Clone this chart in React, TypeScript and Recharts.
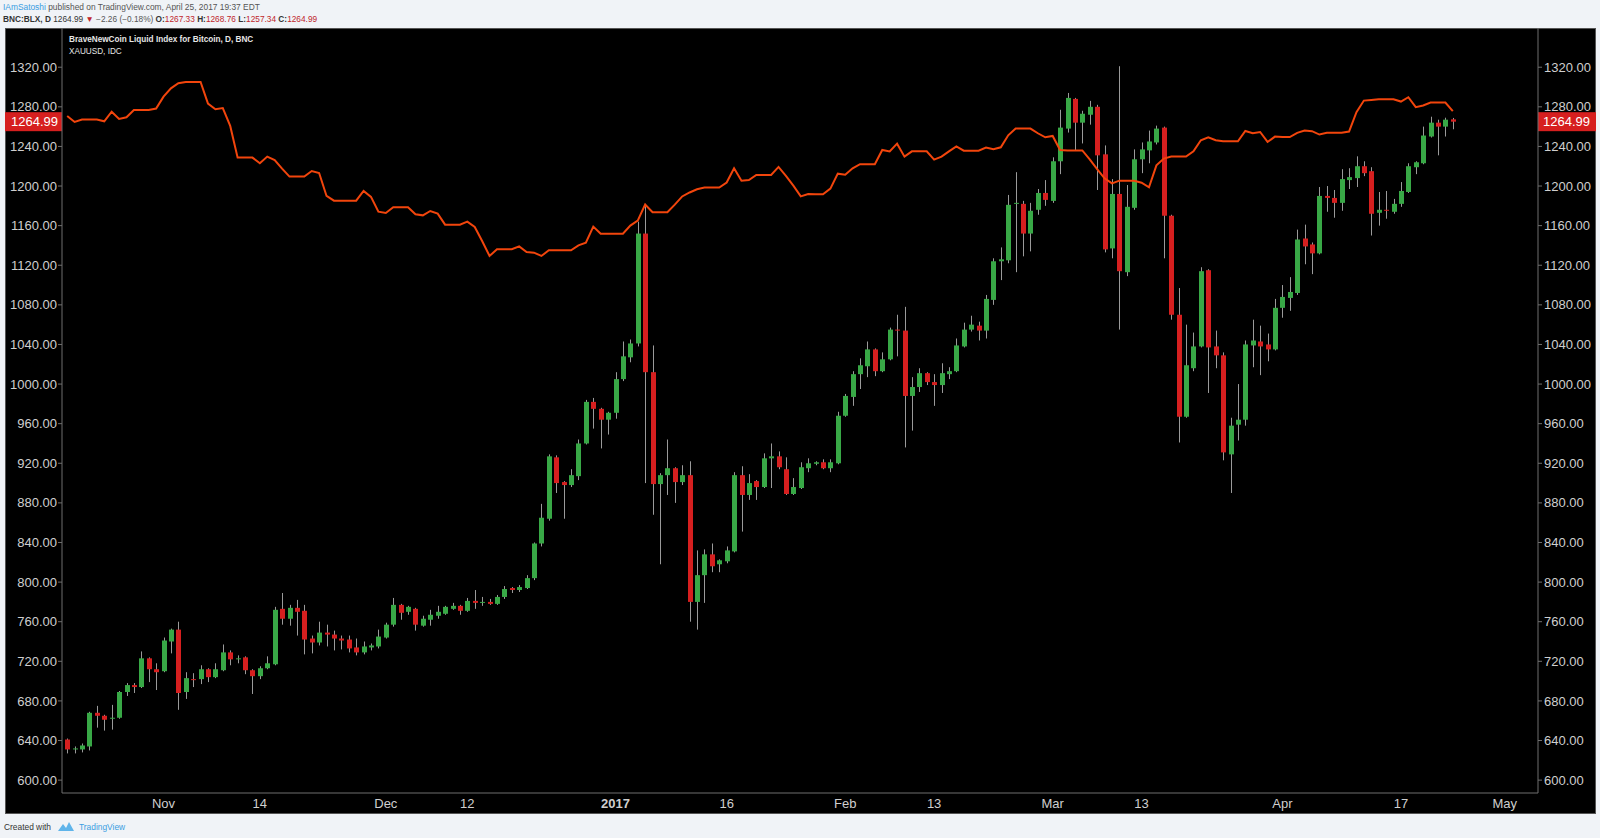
import React from 'react';
import { ComposedChart, Bar, Line, XAxis, YAxis, ReferenceLine } from 'recharts';

// BNC:BLX daily candles, 2016-10-19 .. 2017-04-24, plus XAUUSD close on the same days
const START_DATE = '2016-10-19';

const OPEN = [
  641, 631, 631, 634, 668, 665, 662, 663, 689, 696, 694, 723, 712, 710, 740, 752, 689, 702, 702, 712,
  704, 711, 729, 722, 724, 711, 705, 713, 717, 773, 763, 774, 771, 743, 739, 749, 747, 743, 742, 734,
  729, 734, 735, 744, 757, 777, 770, 773, 756, 762, 766, 768, 773, 776, 771, 781, 779, 780, 778, 785,
  794, 792, 794, 804, 839, 864, 926, 901, 898, 907, 940, 982, 975, 964, 971, 1005, 1027, 1041, 1152, 1012,
  899, 908, 915, 901, 908, 780, 807, 828, 818, 821, 831, 908, 888, 902, 896, 925, 927, 914, 889, 895,
  915, 919.5, 921, 915, 920, 968, 987, 1010, 1018, 1035, 1013, 1025, 1055, 1054, 988, 997, 1011, 1002, 999, 1010,
  1013, 1038, 1055, 1059, 1054, 1085, 1124, 1125, 1182, 1182, 1152, 1176, 1193, 1185, 1225, 1258, 1288, 1264, 1272, 1280,
  1232, 1137, 1192, 1113, 1178, 1227, 1236, 1244, 1259, 1170, 1070, 967, 1016, 1038, 1115, 1038, 1029, 929, 959, 964,
  1039, 1043, 1040, 1035, 1077, 1087, 1092, 1147, 1141, 1132, 1190, 1188, 1183, 1206, 1208, 1220, 1215, 1173, 1176, 1174,
  1182, 1194, 1219, 1223, 1250, 1264, 1260, 1267.33,
];
const HIGH = [
  642, 634, 637, 669, 675, 666, 676, 690, 698, 698, 730, 724, 718, 744, 753, 760, 709, 708, 716, 713,
  718, 737, 731, 726, 725, 712, 715, 725, 775, 789, 777, 782, 777, 746, 760, 757, 751, 746, 746, 743,
  740, 738, 752, 759, 784, 778, 776, 774, 766, 772, 776, 776, 779, 777, 784, 792, 785, 783, 787, 796,
  795, 797, 807, 840, 879, 929, 928, 902, 914, 944, 984, 986, 976, 972, 1012, 1043, 1045, 1164, 1182, 1039,
  910, 944, 916, 918, 922, 832, 833, 839, 823, 836, 911, 917, 909, 903, 930, 940, 932, 926, 905, 921,
  925, 922, 924, 924, 972, 990, 1013, 1026, 1043, 1036, 1032, 1057, 1070, 1078, 1007, 1016, 1012, 1010, 1021, 1017,
  1046, 1062, 1069, 1063, 1090, 1127, 1138, 1191, 1214, 1185, 1183, 1197, 1206, 1229, 1277, 1294, 1289, 1276, 1286, 1282,
  1241, 1207, 1321, 1201, 1237, 1244, 1256, 1261, 1260, 1171, 1097, 1060, 1052, 1118, 1116, 1054, 1032, 966, 1000, 1044,
  1065, 1059, 1051, 1086, 1100, 1108, 1156, 1161, 1143, 1199, 1200, 1196, 1217, 1218, 1230, 1225, 1219, 1194, 1195, 1187,
  1204, 1223, 1225, 1260, 1270, 1267, 1269, 1268.76,
];
const LOW = [
  627, 627, 628, 630, 653, 650, 651, 662, 685, 688, 693, 699, 691, 709, 728, 671, 682, 694, 697, 699,
  703, 710, 716, 718, 707, 687, 702, 712, 716, 757, 756, 746, 727, 728, 736, 735, 731, 732, 729, 726,
  727, 731, 733, 743, 755, 762, 767, 751, 755, 756, 763, 767, 772, 767, 770, 773, 776, 777, 777, 783,
  789, 790, 793, 802, 836, 862, 890, 864, 896, 903, 939, 955, 935, 949, 965, 1003, 1022, 1038, 900, 868,
  818, 888, 880, 898, 760, 752, 779, 810, 810, 819, 830, 851, 883, 883, 895, 895, 914, 888, 888, 894,
  911, 918, 914, 911, 919, 967, 978, 995, 1007, 1008, 1012, 1024, 1028, 936, 953, 992, 999, 978, 991, 1005,
  1012, 1037, 1053, 1044, 1046, 1080, 1105, 1122, 1113, 1129, 1134, 1171, 1180, 1183, 1212, 1254, 1236, 1243, 1262, 1196,
  1133, 1127, 1055, 1109, 1176, 1213, 1223, 1242, 1127, 1065, 941, 966, 1013, 1037, 991, 1016, 923, 890, 943, 958,
  1017, 1009, 1023, 1034, 1067, 1074, 1090, 1121, 1111, 1131, 1174, 1168, 1175, 1197, 1199, 1210, 1150, 1160, 1167, 1172,
  1179, 1193, 1212, 1222, 1249, 1231, 1250, 1257.34,
];
const CLOSE = [
  631, 632, 635, 668, 665, 661, 663, 689, 696, 694, 723, 712, 709, 741, 752, 688, 703, 701, 712, 704,
  712, 729, 722, 723, 711, 705, 713, 718, 772, 763, 774, 770, 742, 739, 749, 747, 743, 741, 733, 729,
  735, 736, 745, 757, 777, 769, 775, 757, 763, 767, 770, 775, 776, 771, 781, 779, 780, 778, 785, 793,
  792, 795, 804, 839, 865, 927, 900, 898, 908, 940, 982, 975, 964, 971, 1005, 1028, 1041, 1152, 1012, 899,
  908, 915, 901, 908, 780, 807, 828, 816, 822, 832, 908, 888, 900, 896, 925, 927, 916, 889, 896, 916,
  920, 921, 915, 921, 968, 988, 1010, 1019, 1035, 1013, 1025, 1055, 1054, 988, 997, 1011, 1002, 999, 1011, 1013,
  1039, 1055, 1060, 1054, 1086, 1124, 1126, 1181, 1183, 1152, 1175, 1193, 1186, 1225, 1259, 1289, 1264, 1273, 1280, 1231,
  1136, 1192, 1114, 1179, 1227, 1237, 1245, 1258, 1170, 1070, 967, 1019, 1038, 1114, 1037, 1029, 931, 958, 964, 1040,
  1044, 1038, 1035, 1077, 1088, 1093, 1146, 1139, 1132, 1190, 1188, 1183, 1207, 1209, 1220, 1213, 1172, 1176, 1175, 1182,
  1195, 1220, 1224, 1251, 1264, 1260, 1267, 1264.99,
];
const GOLD = [
  1270.8, 1264.7, 1267.1, 1267.1, 1267.1, 1265.4, 1275.1, 1267.7, 1269.4, 1276.8, 1276.8, 1276.8, 1278.2, 1290.3, 1298.7, 1303.8, 1305.1, 1305.1, 1305.1, 1283.2,
  1277.5, 1278.8, 1260.7, 1228.7, 1228.7, 1228.7, 1223, 1229.7, 1226.3, 1217.6, 1209.5, 1209.5, 1209.5, 1215.2, 1213.2, 1190, 1185.2, 1185.2, 1185.2, 1185.2,
  1195, 1189, 1174.1, 1172.8, 1178.5, 1178.5, 1178.5, 1171.4, 1170.4, 1174.8, 1172.1, 1161, 1161, 1161, 1164, 1158.6, 1144.5, 1129.4, 1136.1, 1136.1,
  1136.1, 1139.1, 1133.4, 1132.7, 1129.4, 1135.1, 1135.1, 1135.1, 1135.1, 1140.1, 1142.8, 1159, 1151.9, 1151.9, 1151.9, 1151.9, 1160, 1165, 1181.3, 1173.5,
  1173.5, 1173.5, 1181.2, 1189.5, 1193.5, 1196.7, 1198.4, 1198.4, 1198.4, 1203.6, 1217.9, 1205.4, 1206.1, 1211.2, 1211.2, 1211.2, 1219.3, 1210.2, 1200.4, 1189.6,
  1192, 1191.6, 1191.6, 1197.4, 1212.5, 1211.5, 1217.9, 1222, 1222, 1222, 1236.4, 1235, 1242.8, 1229.7, 1235, 1235, 1235, 1226.7, 1229.7, 1235,
  1240.1, 1235.7, 1235.7, 1235.7, 1238.8, 1237.1, 1239.1, 1251.2, 1258, 1258, 1258, 1253.3, 1249.2, 1250.6, 1236.4, 1236, 1236, 1236, 1227, 1217,
  1207.8, 1202.7, 1205.4, 1205.4, 1205.4, 1203.4, 1198.7, 1220.9, 1227.7, 1229.7, 1229.7, 1229.7, 1235, 1246.2, 1249.2, 1246.2, 1245.2, 1245.2, 1245.2, 1255.6,
  1253.3, 1254.6, 1244.5, 1249.9, 1249.5, 1249.5, 1253.7, 1256, 1255.4, 1252, 1253.7, 1253.7, 1253.7, 1255, 1274.6, 1286.3, 1287, 1287.7, 1287.7, 1287.7,
  1285.3, 1289.7, 1279.6, 1281.3, 1284.3, 1284.3, 1284.3, 1275.6,
];

const SLOT_COUNT = 199; // daily slots from START_DATE, right side left empty up to May
const X_TICKS = [13, 26, 43, 54, 74, 89, 105, 117, 133, 145, 164, 180, 194];
const X_TICK_LABELS = ['Nov', '14', 'Dec', '12', '2017', '16', 'Feb', '13', 'Mar', '13', 'Apr', '17', 'May'];
const Y_TICKS = [600, 640, 680, 720, 760, 800, 840, 880, 920, 960, 1000, 1040, 1080, 1120, 1160, 1200, 1240, 1280, 1320];
const Y_DOMAIN: [number, number] = [587, 1359.6];
const LAST_CLOSE = 1264.99;

const GREEN = '#38a846';
const RED = '#d61f1f';
const WICK = '#9a9a9a';
const GOLD_COLOR = '#f2450c';
const AXIS = '#6f6f6f';
const LABEL = '#cfcfcf';
const FONT = '"Liberation Sans", Arial, sans-serif';

const data = Array.from({ length: SLOT_COUNT }, (_, i) =>
  i < OPEN.length
    ? { i, range: [LOW[i], HIGH[i]], open: OPEN[i], high: HIGH[i], low: LOW[i], close: CLOSE[i], gold: GOLD[i] }
    : { i },
);

const Candle = (props: any) => {
  const { x, y, width, height, payload } = props;
  if (!payload || payload.open == null) return null;
  const { open, close, high, low } = payload;
  const top = Math.min(y, y + height);
  const h = Math.abs(height);
  const ppu = h / (high - low);
  const cx = Math.round(x + width / 2) + 0.5;
  const bodyTop = top + (high - Math.max(open, close)) * ppu;
  const bodyH = Math.max(1, Math.abs(open - close) * ppu);
  return (
    <g>
      <line x1={cx} x2={cx} y1={top} y2={top + h} stroke={WICK} strokeWidth={1} />
      <rect x={cx - 2.5} y={bodyTop} width={5} height={bodyH} fill={close >= open ? GREEN : RED} />
    </g>
  );
};

const XTick = ({ x, y, payload }: any) => {
  const label = X_TICK_LABELS[X_TICKS.indexOf(payload.value)];
  return (
    <text x={x} y={y} dy="0.71em" textAnchor="middle" fill={LABEL} fontSize={13} fontFamily={FONT} fontWeight={label === '2017' ? 700 : 400}>
      {label}
    </text>
  );
};

const PriceTag = ({ viewBox }: any) => {
  if (!viewBox) return null;
  const { x, y, width } = viewBox;
  const txt = LAST_CLOSE.toFixed(2);
  return (
    <g fontFamily={FONT} fontSize={13}>
      <rect x={x - 57} y={y - 9.5} width={57} height={19} fill={RED} />
      <text x={x - 4} y={y} dy="0.35em" textAnchor="end" fill="#fff">{txt}</text>
      <rect x={x + width} y={y - 9.5} width={58} height={19} fill={RED} />
      <text x={x + width + 5} y={y} dy="0.35em" textAnchor="start" fill="#fff">{txt}</text>
    </g>
  );
};

const yTick = { fill: LABEL, fontSize: 13, fontFamily: FONT };

export default function App() {
  return (
    <div style={{ position: 'relative', width: 1600, height: 838, background: '#f0f3f7', fontFamily: FONT, overflow: 'hidden' }}>
      <style>{'body{margin:0;background:#f0f3f7}'}</style>

      <div style={{ position: 'absolute', left: 3, top: 2, fontSize: 8.4, color: '#555', whiteSpace: 'nowrap' }}>
        <span style={{ color: '#3a9de2' }}>IAmSatoshi</span> published on TradingView.com, April 25, 2017 19:37 EDT
      </div>
      <div style={{ position: 'absolute', left: 3, top: 13.5, fontSize: 8.3, color: '#333', whiteSpace: 'nowrap' }}>
        <b>BNC:BLX, D</b> 1264.99 <span style={{ color: '#c0262b' }}>▼</span> <span style={{ color: '#555' }}>−2.26 (−0.18%)</span>{' '}
        <b>O:</b><span style={{ color: '#c0262b' }}>1267.33</span> <b>H:</b><span style={{ color: '#c0262b' }}>1268.76</span>{' '}
        <b>L:</b><span style={{ color: '#c0262b' }}>1257.34</span> <b>C:</b><span style={{ color: '#c0262b' }}>1264.99</span>
      </div>

      <div style={{ position: 'absolute', left: 5, top: 28, width: 1591, height: 786, background: '#000', boxShadow: 'inset 0 0 0 1px #555' }}>
        <ComposedChart width={1591} height={786} data={data} margin={{ top: 0, right: 0, bottom: 0, left: 0 }}>
          <XAxis
            dataKey="i"
            type="category"
            ticks={X_TICKS}
            interval={0}
            tick={<XTick />}
            tickLine={false}
            tickSize={0}
            tickMargin={6}
            axisLine={{ stroke: AXIS }}
            height={21}
            padding={{ left: 1.5, right: 0 }}
          />
          <YAxis
            yAxisId="left"
            orientation="left"
            domain={Y_DOMAIN}
            ticks={Y_TICKS}
            interval={0}
            allowDataOverflow
            width={57}
            tickSize={4}
            tickMargin={1}
            tick={yTick}
            tickLine={{ stroke: AXIS }}
            axisLine={{ stroke: AXIS }}
            tickFormatter={(v: number) => v.toFixed(2)}
          />
          <YAxis
            yAxisId="right"
            orientation="right"
            domain={Y_DOMAIN}
            ticks={Y_TICKS}
            interval={0}
            allowDataOverflow
            width={58}
            tickSize={4}
            tickMargin={2}
            tick={yTick}
            tickLine={{ stroke: AXIS }}
            axisLine={{ stroke: AXIS }}
            tickFormatter={(v: number) => v.toFixed(2)}
          />
          <Line yAxisId="left" type="linear" dataKey="gold" stroke={GOLD_COLOR} strokeWidth={2} dot={false} activeDot={false} isAnimationActive={false} />
          <Bar yAxisId="left" dataKey="range" shape={<Candle />} isAnimationActive={false} />
          <ReferenceLine yAxisId="right" y={LAST_CLOSE} stroke="none" strokeOpacity={0} label={<PriceTag />} />
        </ComposedChart>

        <div style={{ position: 'absolute', left: 64, top: 6, color: '#e6e6e6', fontSize: 8.2, lineHeight: '11.5px', whiteSpace: 'nowrap' }}>
          <div style={{ fontWeight: 700 }}>BraveNewCoin Liquid Index for Bitcoin, D, BNC</div>
          <div>XAUUSD, IDC</div>
        </div>
      </div>

      <div style={{ position: 'absolute', left: 4, top: 821, fontSize: 8.4, color: '#333', whiteSpace: 'nowrap', display: 'flex', alignItems: 'center' }}>
        <span>Created with</span>
        <svg width={18} height={11} viewBox="0 0 18 11" style={{ marginLeft: 6, marginRight: 4 }}>
          <path d="M1 10 L6 3 L9 7 L12 1 L17 10 Z" fill="#5fb4ea" />
        </svg>
        <span style={{ color: '#3a9de2' }}>TradingView</span>
      </div>
    </div>
  );
}
